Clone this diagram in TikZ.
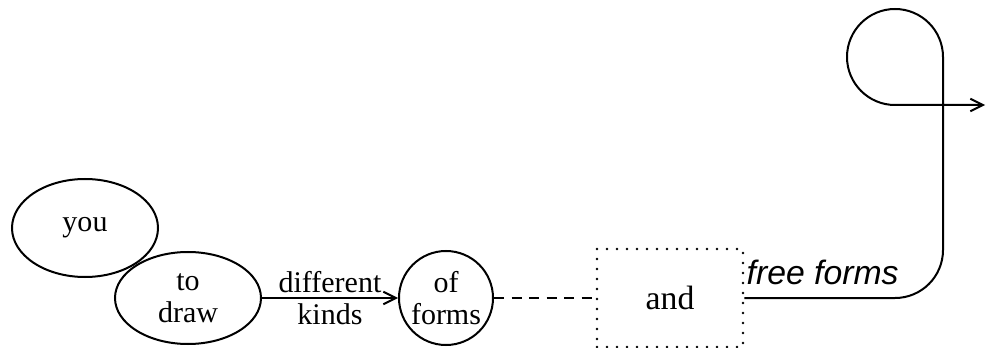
\documentclass[tikz,border=0pt]{standalone}
\usepackage{fontspec}
\setmainfont{Liberation Serif}
\setsansfont{Liberation Sans}
\usetikzlibrary{shapes.geometric, arrows.meta}
\tikzset{>={Straight Barb[length=5pt,width=5pt]}}
\tikzset{
  ovalnode/.style={draw, ellipse, line width=0.8pt, inner sep=0pt, align=center,
    minimum width=58.4pt, font=\fontsize{12}{12.8}\selectfont},
  roundnode/.style={draw, circle, line width=0.8pt, inner sep=0pt, align=center,
    minimum size=37.6pt, font=\fontsize{12}{12.8}\selectfont},
  dotbox/.style={draw, line width=1.1pt, line cap=round, dash pattern=on 0pt off 4pt,
    minimum width=58.4pt, minimum height=39.2pt, font=\fontsize{13.5}{14}\selectfont},
  link/.style={line width=0.8pt}
}
\begin{document}
\begin{tikzpicture}[x=0.4pt, y=0.4pt]
\useasboundingbox (0,0) rectangle (986,347);
\node[ovalnode, minimum height=39.2pt] (you) at (85,119) {you};
\node[ovalnode, minimum height=36.8pt] (todraw) at (188,49) {to\\draw};
\node[roundnode] (forms) at (446,49) {of\\forms};
\node[dotbox] (and) at (670,49) {and};
\draw[link, ->] (todraw.east) -- (forms.west)
  node[midway, align=center, font=\fontsize{12}{12.8}\selectfont] {different\\kinds};
\draw[link, dash pattern=on 4pt off 3pt] (forms.east) -- (and.west);
\coordinate (out) at (985,242);
\draw[link, ->] (and.east) node[anchor=south west, inner xsep=0.5pt, inner ysep=4.8pt,
    font=\sffamily\itshape\fontsize{13.5}{14}\selectfont] {free forms}
  -- (895,49) arc[start angle=270, end angle=360, radius=19.2pt]
  -- (943,290) arc[start angle=0, end angle=270, radius=19.2pt]
  -- (out);
\end{tikzpicture}
\end{document}
